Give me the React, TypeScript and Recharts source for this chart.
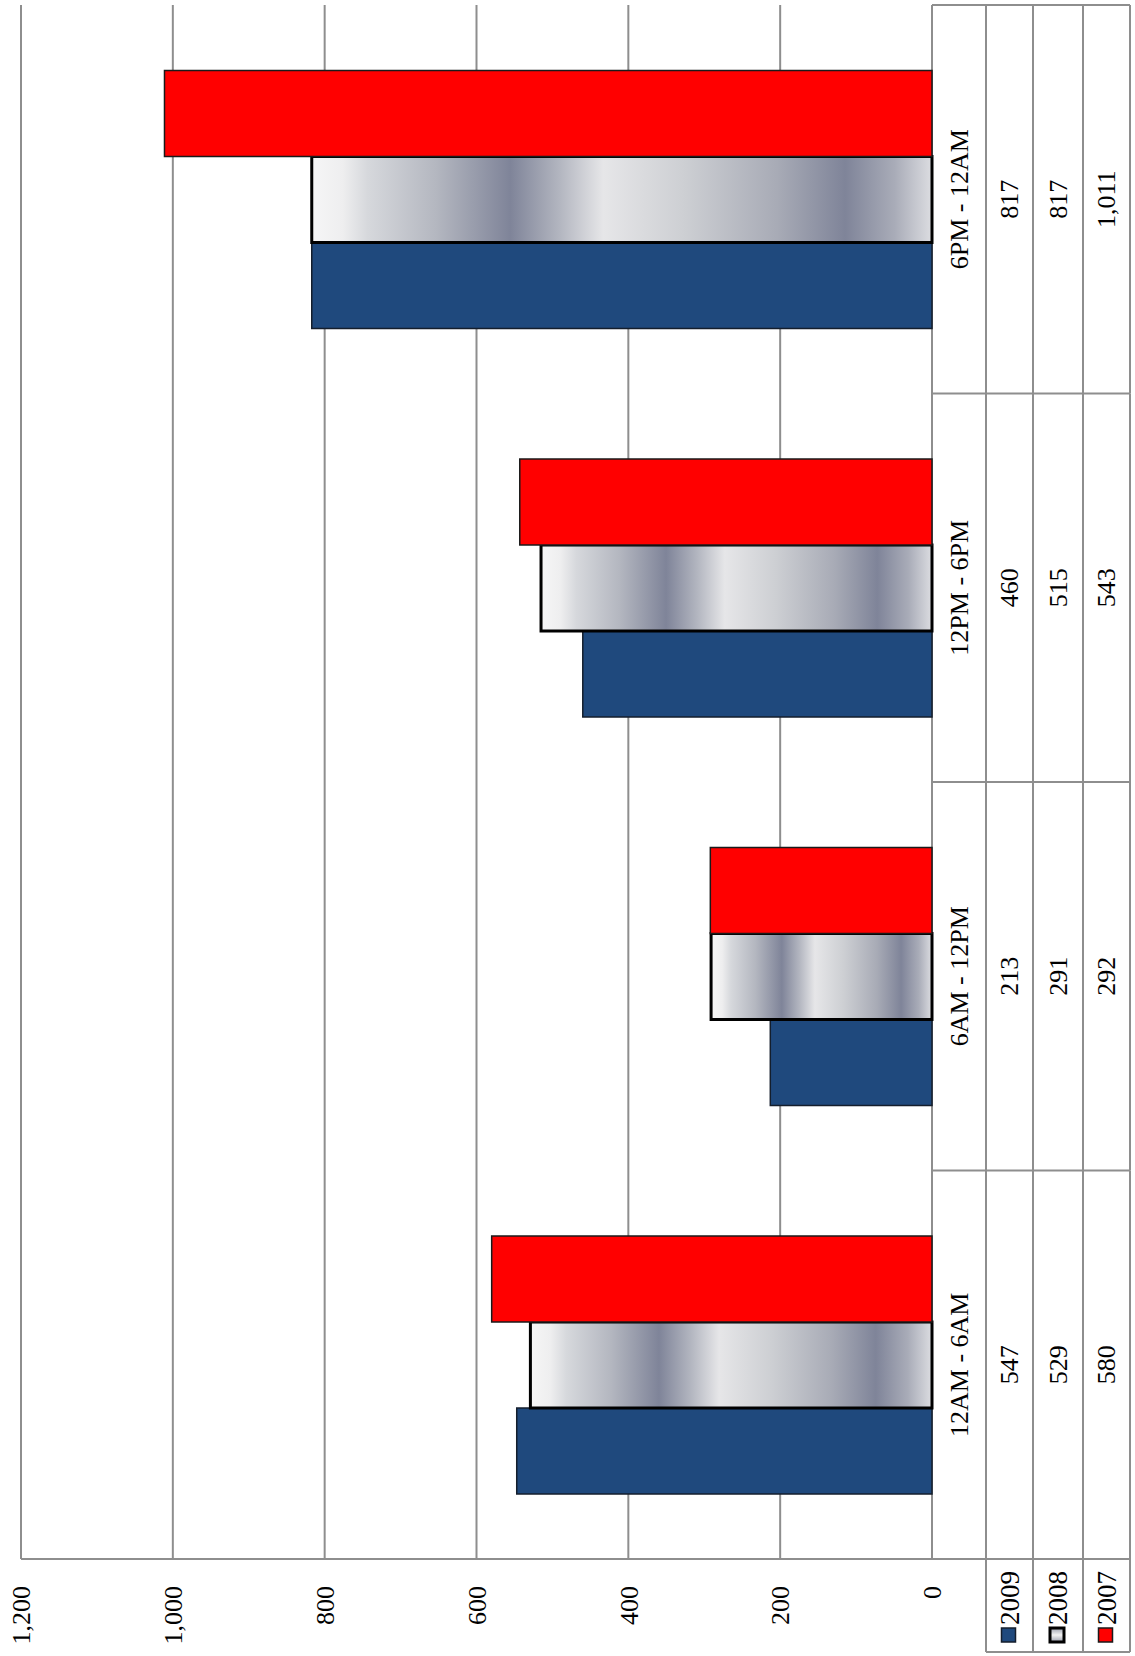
import React from "react";
import { Bar, BarChart, CartesianGrid, XAxis, YAxis } from "recharts";

// bars + data table, drawn as an ordinary column chart and then turned 90° to the left
const categories = ["12AM - 6AM", "6AM - 12PM", "12PM - 6PM", "6PM - 12AM"];
const y2009 = [547, 213, 460, 817];
const y2008 = [529, 291, 515, 817];
const y2007 = [580, 292, 543, 1011];
const valueTicks = [0, 200, 400, 600, 800, 1000, 1200];

const series = [
  { key: "y2009", name: "2009", values: y2009 },
  { key: "y2008", name: "2008", values: y2008 },
  { key: "y2007", name: "2007", values: y2007 },
];

const rows = categories.map((c, i) => ({
  cat: c,
  y2009: y2009[i],
  y2008: y2008[i],
  y2007: y2007[i],
}));

const W = 1656;
const H = 1135;
const FONT = "'Liberation Serif', 'Times New Roman', serif";
const LINE = "#8e8e8e";

// layout of the chart in its unrotated frame
const PLOT_LEFT = 97;
const PLOT_RIGHT = 1651;
const TABLE_TOP = 932;
const ROW_LINES = [986, 1033, 1083, 1130];
const BAND = (PLOT_RIGHT - PLOT_LEFT) / categories.length;

const fmt = (v: number) => v.toLocaleString("en-US");

const KEY_FILL: Record<string, { fill: string; stroke: string; sw: number }> = {
  y2009: { fill: "#1f497d", stroke: "#141e2c", sw: 1.5 },
  y2008: { fill: "url(#chromeKey)", stroke: "#000", sw: 3 },
  y2007: { fill: "#ff0000", stroke: "#1a1a1a", sw: 1.5 },
};

function TableColumn(props: any) {
  const { x, payload, index } = props;
  const left = x - BAND / 2;
  const right = x + BAND / 2;
  const rowTops = [TABLE_TOP, ...ROW_LINES];
  const mid = (i: number) => (rowTops[i] + rowTops[i + 1]) / 2;
  return (
    <g>
      {ROW_LINES.map((ly) => (
        <line key={ly} x1={left} x2={right} y1={ly} y2={ly} stroke={LINE} strokeWidth={2} />
      ))}
      <line x1={right} x2={right} y1={TABLE_TOP} y2={ROW_LINES[3]} stroke={LINE} strokeWidth={2} />
      <text x={x} y={mid(0)} textAnchor="middle" dominantBaseline="central" fontSize={26} fontFamily={FONT} fill="#000">
        {payload.value}
      </text>
      {series.map((s, i) => (
        <text key={s.key} x={x} y={mid(i + 1)} textAnchor="middle" dominantBaseline="central" fontSize={26} fontFamily={FONT} fill="#000">
          {fmt(s.values[index])}
        </text>
      ))}
      {index === 0 && (
        <g>
          <line x1={PLOT_LEFT} x2={PLOT_LEFT} y1={TABLE_TOP} y2={ROW_LINES[3]} stroke={LINE} strokeWidth={2} />
          <line x1={4} x2={4} y1={ROW_LINES[0]} y2={ROW_LINES[3]} stroke={LINE} strokeWidth={2} />
          {ROW_LINES.map((ly) => (
            <line key={ly} x1={4} x2={PLOT_LEFT} y1={ly} y2={ly} stroke={LINE} strokeWidth={2} />
          ))}
          {series.map((s, i) => {
            const k = KEY_FILL[s.key];
            const cy = mid(i + 1);
            return (
              <g key={s.key}>
                <rect x={14} y={cy - 8} width={14} height={14} fill={k.fill} stroke={k.stroke} strokeWidth={k.sw} />
                <text x={31} y={cy} dominantBaseline="central" fontSize={27} fontFamily={FONT} fill="#000">
                  {s.name}
                </text>
              </g>
            );
          })}
        </g>
      )}
    </g>
  );
}

export default function App() {
  return (
    <div
      style={{
        position: "absolute",
        left: 0,
        top: 0,
        width: 1135,
        height: 1656,
        overflow: "hidden",
        background: "#fff",
        fontFamily: FONT,
      }}
    >
      <div
        style={{
          position: "absolute",
          left: 0,
          top: 0,
          width: W,
          height: H,
          transformOrigin: "0 0",
          transform: `translateY(${W}px) rotate(-90deg)`,
        }}
      >
        <BarChart
          width={W}
          height={H}
          data={rows}
          margin={{ top: 21, right: W - PLOT_RIGHT, left: 0, bottom: 0 }}
          barCategoryGap={65}
          barGap={0}
        >
          <defs>
            <linearGradient id="chrome" x1="0" y1="0" x2="0" y2="1">
              <stop offset="0" stopColor="#f6f6f6" />
              <stop offset="0.05" stopColor="#eeeeef" />
              <stop offset="0.09" stopColor="#d6d8dc" />
              <stop offset="0.2" stopColor="#b4b7c0" />
              <stop offset="0.32" stopColor="#7f8499" />
              <stop offset="0.4" stopColor="#b3b6c0" />
              <stop offset="0.47" stopColor="#e6e6e8" />
              <stop offset="0.6" stopColor="#cdcfd3" />
              <stop offset="0.75" stopColor="#a8abb6" />
              <stop offset="0.86" stopColor="#7f8499" />
              <stop offset="0.94" stopColor="#a9acb8" />
              <stop offset="1" stopColor="#dcdde1" />
            </linearGradient>
            <linearGradient id="chromeKey" x1="0" y1="0" x2="1" y2="0">
              <stop offset="0" stopColor="#9a9eac" />
              <stop offset="0.5" stopColor="#f2f2f2" />
              <stop offset="1" stopColor="#9a9eac" />
            </linearGradient>
          </defs>
          <CartesianGrid vertical={false} stroke={LINE} strokeWidth={2} />
          <XAxis
            dataKey="cat"
            height={H - TABLE_TOP}
            axisLine={false}
            tickLine={false}
            interval={0}
            tick={(p: any) => <TableColumn {...p} />}
          />
          <YAxis
            width={PLOT_LEFT}
            domain={[0, 1200]}
            ticks={valueTicks}
            tickFormatter={fmt}
            tickLine={false}
            tickSize={0}
            tickMargin={27}
            axisLine={{ stroke: LINE, strokeWidth: 2 }}
            tick={{ fontSize: 26, fontFamily: FONT, fill: "#000" }}
          />
          <Bar dataKey="y2009" fill="#1f497d" stroke="#141e2c" strokeWidth={1.5} isAnimationActive={false} />
          <Bar dataKey="y2008" fill="url(#chrome)" stroke="#000" strokeWidth={3} isAnimationActive={false} />
          <Bar dataKey="y2007" fill="#ff0000" stroke="#1a1a1a" strokeWidth={1.5} isAnimationActive={false} />
        </BarChart>
      </div>
    </div>
  );
}
